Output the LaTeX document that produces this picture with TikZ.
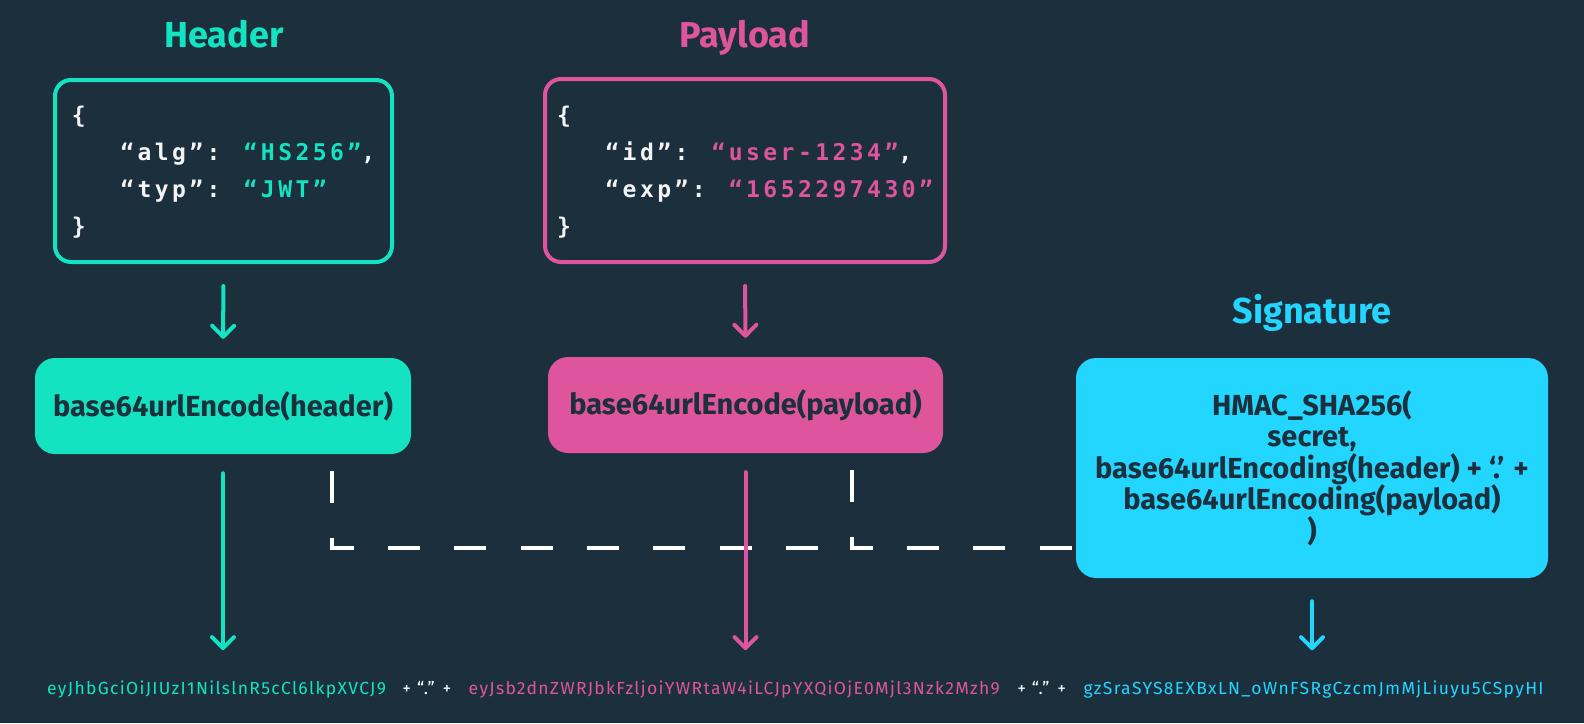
\documentclass[tikz,border=0pt]{standalone}
\usepackage{fontspec}
\setmainfont{Fira Sans}
\newfontfamily\codefont[LetterSpace=15]{DejaVu Sans Mono}
\newfontfamily\tokenfont[LetterSpace=7.5]{Fira Sans}
\usetikzlibrary{positioning,arrows.meta}
\definecolor{bgnavy}{HTML}{1B2F3D}
\definecolor{jwtteal}{HTML}{14E3C1}
\definecolor{jwtpink}{HTML}{DF559D}
\definecolor{jwtcyan}{HTML}{22D6FF}
\definecolor{codewhite}{HTML}{F4F4F4}

\begin{document}
\begin{tikzpicture}[x=1pt,y=-1pt,
    title/.style={font=\fontsize{36}{40}\selectfont\bfseries, inner sep=0pt, anchor=base},
    jsonbox/.style={draw, line width=4pt, rounded corners=16pt, align=left,
        font=\codefont\bfseries\fontsize{23}{37}\selectfont, text=codewhite},
    encbox/.style={rounded corners=20pt, text=bgnavy, align=center,
        font=\fontsize{29}{31.5}\selectfont\bfseries},
    token/.style={font=\tokenfont\fontsize{17.5}{20}\selectfont, inner sep=0pt},
    flowarrow/.style={line width=4pt, line cap=round,
        -{Straight Barb[length=11pt,width=22pt,round]}},
    dashline/.style={draw=white, line width=4pt, dash pattern=on 32pt off 34.33pt}]
    \useasboundingbox[fill=bgnavy] (0,0) rectangle (1584,723);

    \node[title, text=jwtteal] (hdrtitle) at (224,47) {Header};
    \node[title, text=jwtpink] (paytitle) at (745,47) {Payload};
    \node[title, text=jwtcyan] (sigtitle) at (1312,323) {Signature};

    \node[jsonbox, draw=jwtteal, minimum width=337pt, minimum height=182pt] (hdrjson) at (223.5,171)
        {\rule{0pt}{20pt}\{\\\phantom{xxx}“alg”: \textcolor{jwtteal}{“HS256”},\\\phantom{xxx}“typ”: \textcolor{jwtteal}{“JWT”}\\\}};
    \node[jsonbox, draw=jwtpink, minimum width=400pt, minimum height=183pt] (payjson) at (745,170.5)
        {\rule{0pt}{20pt}\{\\\phantom{xxx}“id”: \textcolor{jwtpink}{“user-1234”},\\\phantom{xxx}“exp”: \textcolor{jwtpink}{“1652297430”}\\\}};

    \node[encbox, fill=jwtteal, minimum width=376pt, minimum height=96pt] (hdrenc) at (223,406) {base64urlEncode(header)};
    \node[encbox, fill=jwtpink, minimum width=395pt, minimum height=96pt] (payenc) at (745.5,405) {base64urlEncode(payload)};
    \node[encbox, fill=jwtcyan, minimum width=472pt, minimum height=220pt] (sigbox) at (1312,468)
        {HMAC\_SHA256(\\secret,\\base64urlEncoding(header) + ‘.’ +\\base64urlEncoding(payload)\\)};

    \node[token, text=jwtteal, anchor=base west] (hdrtok) at (47,694) {eyJhbGciOiJIUzI1NilslnR5cCl6lkpXVCJ9};
    \node[token, text=white, base right=16pt of hdrtok] (dotone) {+ “.” +};
    \node[token, text=jwtpink, base right=17pt of dotone] (paytok) {eyJsb2dnZWRJbkFzljoiYWRtaW4iLCJpYXQiOjE0Mjl3Nzk2Mzh9};
    \node[token, text=white, base right=17pt of paytok] (dottwo) {+ “.” +};
    \node[token, text=jwtcyan, base right=17pt of dottwo] (sigtok) {gzSraSYS8EXBxLN\_oWnFSRgCzcmJmMjLiuyu5CSpyHI};

    \coordinate (hdrtap) at ([shift={(109,17)}]hdrenc.south);
    \coordinate (paytap) at ([shift={(106.5,17)}]payenc.south);
    \coordinate (joinrow) at (0,548);
    \draw[dashline] (hdrtap) |- (paytap |- joinrow);
    \draw[dashline] (paytap) |- (sigbox.west |- joinrow);

    \draw[flowarrow, jwtteal, shorten <=22pt, shorten >=19pt] (hdrjson.south) -- (hdrenc.north);
    \draw[flowarrow, jwtpink, shorten <=22pt, shorten >=19pt] (payjson.south) -- (payenc.north);
    \draw[flowarrow, jwtteal, shorten <=19pt, shorten >=30pt] (hdrenc.south) -- (hdrenc.south |- hdrtok.north);
    \draw[flowarrow, jwtpink, shorten <=19pt, shorten >=30pt] (payenc.south) -- (payenc.south |- paytok.north);
    \draw[flowarrow, jwtcyan, shorten <=23pt, shorten >=30pt] (sigbox.south) -- (sigbox.south |- sigtok.north);
\end{tikzpicture}
\end{document}
